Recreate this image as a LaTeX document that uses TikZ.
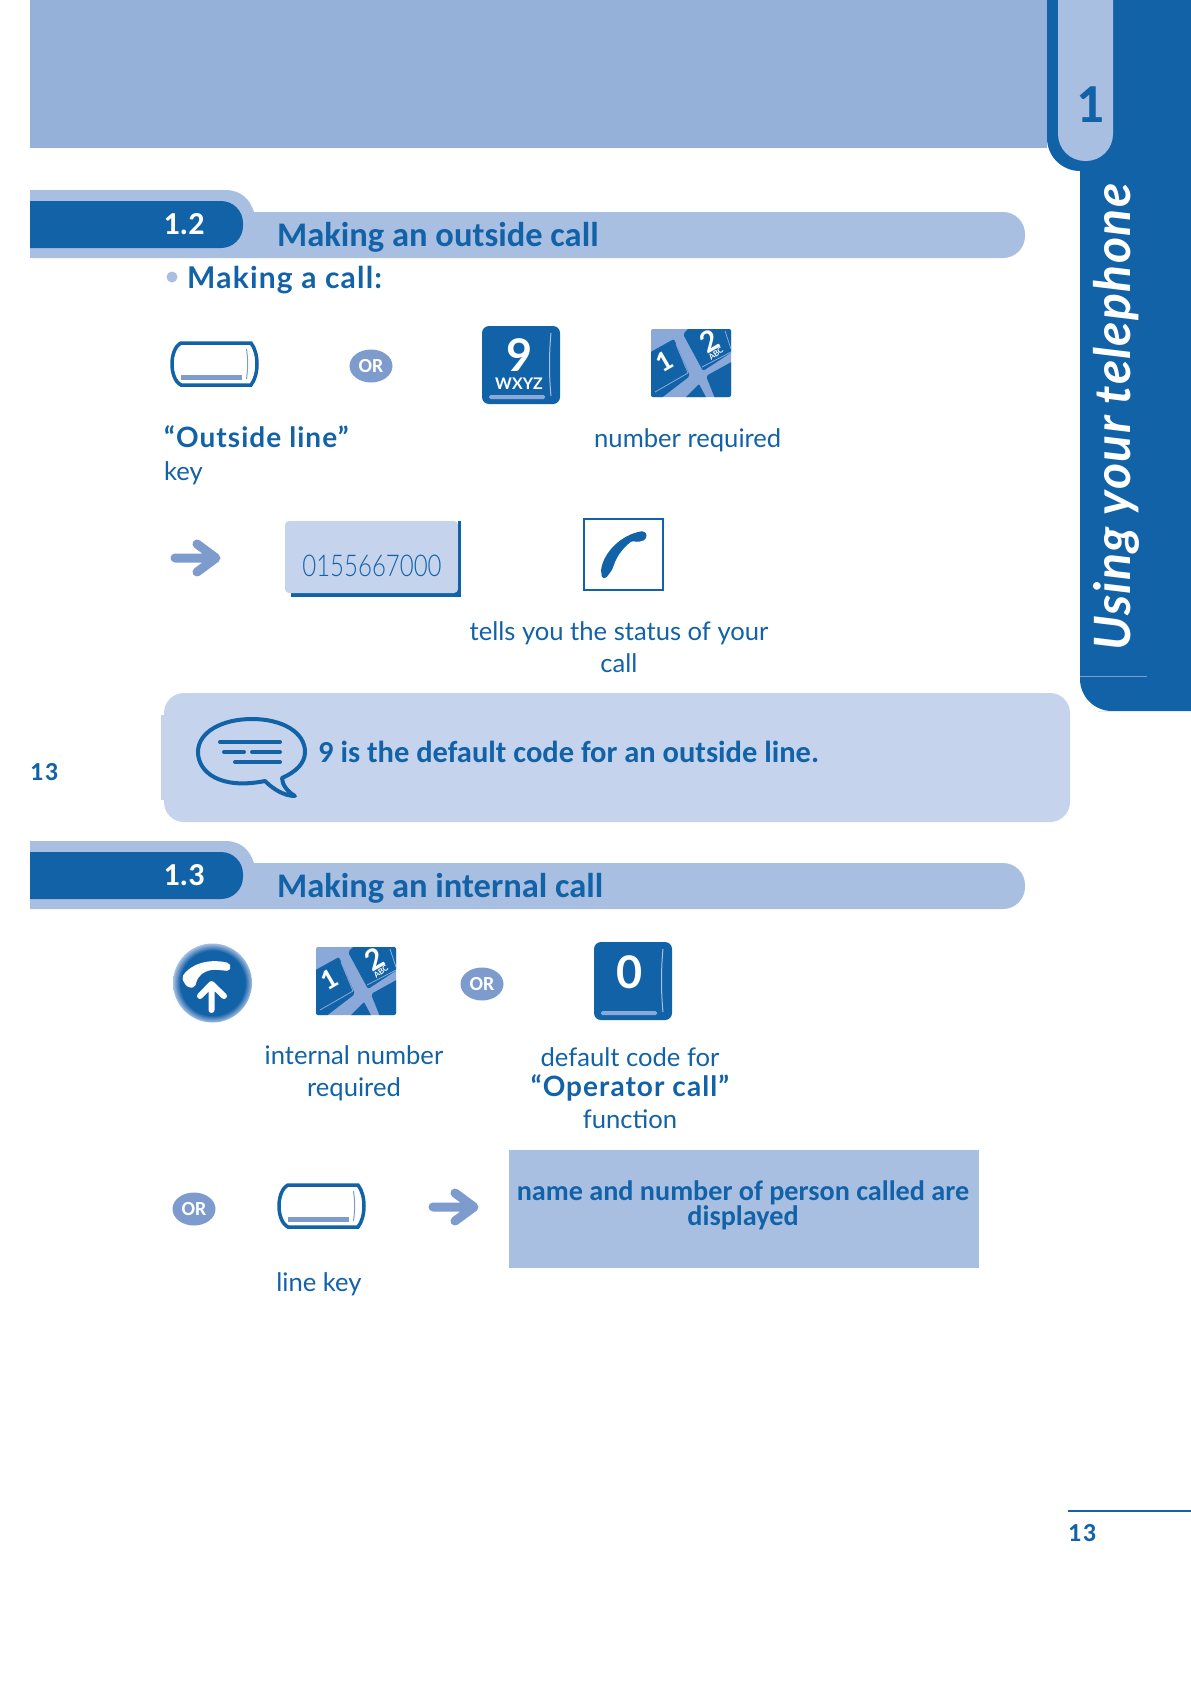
\documentclass[tikz,border=0pt]{standalone}
\usepackage{fontspec}
\usepackage{xcolor}
\usepackage{tikz}
\usetikzlibrary{calc,shapes.geometric}
\setmainfont{Lato}
\newfontfamily\headfont{Carlito}
\definecolor{navy}{HTML}{1262A8}
\definecolor{bandblue}{HTML}{A9BFE1}
\definecolor{topblue}{HTML}{95B1D9}
\definecolor{paleblue}{HTML}{C5D4EC}
\definecolor{midblue}{HTML}{7D9BCD}
\definecolor{padblue}{HTML}{8AA9D8}
\pgfdeclareradialshading{softdisc}{\pgfpoint{0bp}{0bp}}{color(0bp)=(navy);color(20.5bp)=(navy);color(25bp)=(bandblue);color(50bp)=(bandblue)}
\tikzset{
  bodytext/.style={text=navy,font=\fontsize{25.6}{32}\selectfont,anchor=base,inner sep=0pt,align=center},
  boldtext/.style={text=navy,font=\fontsize{28}{32}\selectfont\bfseries\addfontfeature{LetterSpace=3.8},anchor=base,inner sep=0pt},
  headtext/.style={text=navy,font=\headfont\bfseries\fontsize{34.5}{35}\selectfont,anchor=base west,inner sep=0pt},
  pagetext/.style={text=navy,font=\headfont\bfseries\fontsize{26}{26}\selectfont,anchor=base west,inner sep=0pt},
  orbadge/.style={ellipse,fill=midblue,text=white,inner sep=0pt,minimum width=43pt,minimum height=33pt,font=\headfont\bfseries\fontsize{20}{20}\selectfont},
  linekey/.pic={
    \draw[navy,line width=3.5pt](9,0)--(79,0).. controls(87,10)and(87,32)..(79,42)--(9,42).. controls(-3,36)and(-3,6)..cycle;
    \fill[midblue](9,31.5)rectangle(70,36.5);
    \draw[midblue,line width=1pt](74.5,6).. controls(76,16)and(76,26)..(74.5,36);
  },
  goarrow/.pic={
    \draw[midblue,line width=9pt,line cap=round,line join=round](4,0)--(44,0)(26,-14)--(45,0)--(26,14);
  },
  digitkey/.pic={
    \fill[navy,rounded corners=7pt](0,0)rectangle(78,78);
    \fill[padblue,rounded corners=1.5pt](7,69)rectangle(63,73);
    \draw[bandblue,line width=1pt](69,7).. controls(67,28)and(67,50)..(69,70);
  },
  keypad/.pic={
    \fill[padblue,rounded corners=2pt](0,0)rectangle(80,68);
    \begin{scope}
    \clip[rounded corners=2pt](0,0)rectangle(80,68);
    \fill[navy,rounded corners=2pt](-4,25)--(23,10)--(39,47)--(9,70)--(-4,70)--cycle;
    \fill[navy,rounded corners=2pt](32,5)--(41,-4)--(84,-4)--(84,21)--(52,42)--cycle;
    \fill[navy,rounded corners=2pt](55,47)--(84,31)--(84,72)--(65,72)--cycle;
    \fill[navy,rounded corners=1pt](48,55)--(57,72)--(31,72)--cycle;
    \draw[padblue,line width=.8pt](4,63)--(37,44)(25,15)--(37,44)(51,38)--(80,23)(74,2)--(80,20);
    \end{scope}
    \node[text=white,rotate=30,inner sep=0pt,font=\headfont\bfseries\fontsize{29}{29}\selectfont](-one)at(13,33){1};
    \node[text=white,rotate=30,inner sep=0pt,font=\bfseries\fontsize{29}{29}\selectfont](-two)at(58,12){2};
    \node[text=white,rotate=38,inner sep=0pt,font=\bfseries\fontsize{8}{8}\selectfont](-abc)at(65,24.5){ABC};
  }
}
\begin{document}
\begin{tikzpicture}[x=1pt,y=-1pt]
\useasboundingbox(0,0)rectangle(1191,1684);
\fill[white](0,0)rectangle(1191,1684);
% top of the page
\fill[topblue](30,0)rectangle(1047,148);
\fill[navy,rounded corners=32pt](1080,0)--(1080,711)--(1130,711)[sharp corners]--(1191,711)--(1191,0)--cycle;
\fill[navy,rounded corners=33pt](1047,-40)--(1047,171)--(1114,171)--(1114,-40)--cycle;
\fill[bandblue,rounded corners=27pt](1058,-40)--(1058,161)--(1113,161)--(1113,-40)--cycle;
\node[text=navy,font=\headfont\bfseries\fontsize{55}{55}\selectfont,inner sep=0pt](chapnum)at(1090,105){1};
\node[text=white,font=\bfseries\itshape\fontsize{50}{50}\selectfont\addfontfeature{LetterSpace=2.6},rotate=90,anchor=base west,inner sep=0pt](sidetitle)at(1130,651){Using your telephone};
\draw[midblue,line width=1pt](1080,676)--(1147,676);
% section bands
\foreach \y/\k/\n/\t in {0/a/1.2/Making an outside call,651/b/1.3/Making an internal call}{
  \fill[bandblue](30,190+\y)--(225,190+\y).. controls(242,190+\y)and(250,200+\y)..(254,212+\y)[rounded corners=22pt]--(1025,212+\y)--(1025,258+\y)[sharp corners]--(30,258+\y)--cycle;
  \fill[navy,rounded corners=22pt](0,201+\y)--(243,201+\y)--(243,248+\y)--(0,248+\y)--cycle;
  \fill[white](0,190+\y)rectangle(30,258+\y);
  \node[text=white,font=\headfont\bfseries\fontsize{32}{32}\selectfont,inner sep=0pt](secnum\k)at(184,224.5+\y){\n};
  \node[headtext](sectitle\k)at(277,246+\y){\t};
}
% 1.2
\fill[bandblue](172,277)circle(5.5pt);
\node[boldtext,anchor=base west,font=\fontsize{30}{32}\selectfont\bfseries\addfontfeature{LetterSpace=4}](calltitle)at(187,288){Making a call:};
\pic at(172,343){linekey};
\node[orbadge](ora)at(371,366){OR};
\pic at(482,326){digitkey};
\node[text=white,inner sep=0pt,font=\bfseries\fontsize{45}{45}\selectfont](nine)at(520,355){9};
\node[text=white,inner sep=0pt,font=\bfseries\fontsize{16}{16}\selectfont](wxyz)at(519,384){WXYZ};
\pic(pada)at(651,329){keypad};
\node[boldtext,anchor=base west](outline)at(164,447){“Outside line”};
\node[bodytext,anchor=base west](keylab)at(164,480){key};
\node[bodytext,anchor=base west](numreq)at(594,447){number required};
\pic at(171,558){goarrow};
\fill[navy](291,525)rectangle(461,597);
\fill[paleblue,rounded corners=4pt](285,521)--(285,593)--(458,593)--(458,521)--cycle;
\fill[navy](458,521)rectangle(461,597);
\node[text=navy,inner sep=0pt,xscale=.8,font=\fontspec{Lato Light}\fontsize{30}{30}\selectfont](dialled)at(372,566){0155667000};
\draw[navy,line width=2pt](584,519)rectangle(663,590);
\fill[navy,rounded corners=1.5pt](601,570).. controls(604,553)and(620,535)..(643,531)--(647,534)--(645,540)--(638,542)--(632,541).. controls(624,547)and(618,555)..(615,562)--(612,570)--(606,578)--(602,578)--cycle;
\node[bodytext](statlab)at(619,672){tells you the status of your\\call};
% note
\fill[paleblue](161,715)rectangle(175,800);
\fill[paleblue,rounded corners=20pt](164,693)rectangle(1070,822);
\draw[navy,line width=4pt,line join=round](265,781).. controls(220,790)and(198,772)..(198,752).. controls(198,732)and(222,719)..(252,719).. controls(282,719)and(305,732)..(305,752).. controls(305,763)and(296,772)..(282,778).. controls(282,785)and(288,792)..(295,796).. controls(285,796)and(274,790)..cycle;
\draw[navy,line width=4pt,line cap=round](220,742)--(280,742)(224,752)--(244,752)(252,752)--(280,752)(235,762)--(280,762);
\node[headtext,font=\headfont\bfseries\fontsize{30.5}{32}\selectfont](notetext)at(318,762){9 is the default code for an outside line.};
\node[pagetext](leftnum)at(30,780){1\kern1.5pt3};
% 1.3
\shade[shading=softdisc](212.5,983)circle(39.5pt);
\fill[white,rounded corners=2pt](182,977).. controls(190,965)and(207,958)..(229,963)--(231,967)--(229,971)--(219,970).. controls(209,969)and(201,973)..(197,980)--(195,987)--(189,988)--(184,983)--cycle;
\draw[white,line width=6pt,line cap=round,line join=round](211.5,1010)--(211.5,984)(200,996)--(211.5,984)--(224,996);
\pic(padb)at(316,947){keypad};
\node[orbadge](orb)at(482,984){OR};
\pic at(594,942){digitkey};
\node[text=white,inner sep=0pt,font=\bfseries\fontsize{45}{45}\selectfont](zero)at(630,972){0};
\node[bodytext](intlab)at(354,1096){internal number\\required};
\node[bodytext](deflab)at(630,1066){default code for};
\node[boldtext](oplab)at(630,1096){“Operator call”};
\node[bodytext](fnlab)at(630,1128){function};
\node[orbadge](orc)at(194,1209){OR};
\pic at(279,1185){linekey};
\pic at(429,1207){goarrow};
\fill[bandblue](509,1150)rectangle(979,1268);
\node[headtext,anchor=base,align=center,font=\headfont\bfseries\fontsize{28.2}{25}\selectfont](nametext)at(743,1225){name and number of person called are\\displayed};
\node[bodytext](linelab)at(319,1291){line key};
% foot of the page
\draw[navy,line width=1.5pt](1068,1511)--(1191,1511);
\node[pagetext](pagenum)at(1068,1541){1\kern1.5pt3};
\end{tikzpicture}
\end{document}
